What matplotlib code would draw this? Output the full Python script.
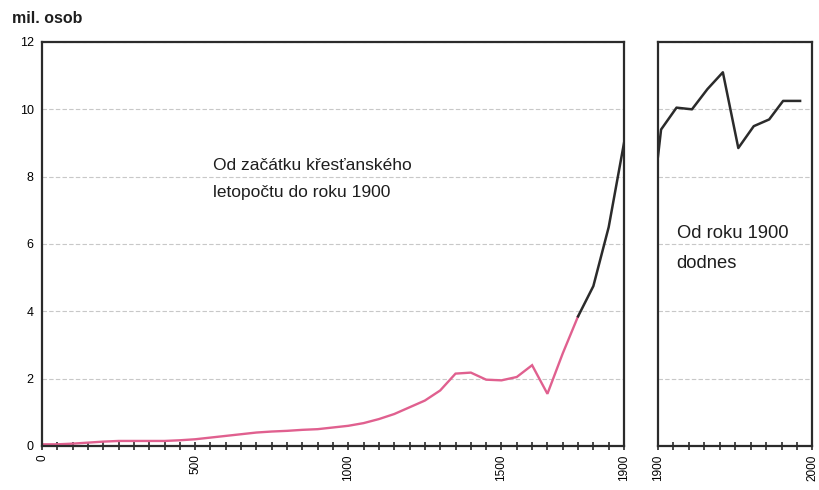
import matplotlib
matplotlib.use("Agg")
import matplotlib.pyplot as plt

# --- data (mil. osob) ---
years_old = [0, 50, 100, 150, 200, 250, 300, 350, 400, 450, 500, 550, 600, 650, 700,
             750, 800, 850, 900, 950, 1000, 1050, 1100, 1150, 1200, 1250, 1300, 1350,
             1400, 1450, 1500, 1550, 1600, 1650, 1700, 1750]
pop_old = [0.05, 0.05, 0.07, 0.1, 0.13, 0.15, 0.15, 0.15, 0.15, 0.17, 0.2, 0.25, 0.3, 0.35, 0.4,
           0.43, 0.45, 0.48, 0.5, 0.55, 0.6, 0.68, 0.8, 0.95, 1.15, 1.35, 1.65, 2.15,
           2.18, 1.97, 1.95, 2.05, 2.4, 1.55, 2.75, 3.85]
years_late = [1750, 1800, 1850, 1900]
pop_late = [3.85, 4.75, 6.5, 9.0]
years_new = [1900, 1902, 1912, 1922, 1932, 1942, 1952, 1962, 1972, 1981, 1992]
pop_new = [8.6, 9.4, 10.05, 10.0, 10.6, 11.1, 8.85, 9.5, 9.7, 10.25, 10.25]

left_ticklabels = {0: "0", 500: "500", 1000: "1000", 1500: "1500", 1900: "1900"}
right_ticklabels = {1900: "1900", 2000: "2000"}

PINK = "#e0608f"
DARK = "#2b2b2b"
GRID = "#c8c8c8"
TXT = "#1e1e1e"

plt.rcParams["font.family"] = ["Liberation Sans", "DejaVu Sans"]

fig = plt.figure(figsize=(8.19, 4.90), dpi=100)
ax1 = fig.add_axes([0.0513, 0.0898, 0.7106, 0.8245])
ax2 = fig.add_axes([0.8034, 0.0898, 0.1886, 0.8245])


def style(ax, xticks, labels):
    for s in ax.spines.values():
        s.set_linewidth(1.6)
        s.set_color(DARK)
    ax.set_ylim(0, 12)
    ax.set_yticks(range(0, 13, 2))
    ax.grid(axis="y", color=GRID, linestyle=(0, (4, 2)), linewidth=0.8)
    ax.set_axisbelow(True)
    ax.set_xticks(xticks)
    ax.set_xticklabels([labels.get(t, "") for t in xticks], rotation=90, fontsize=8.5)
    ax.tick_params(axis="x", direction="inout", length=6, width=1.2, color=DARK, pad=3)
    ax.tick_params(axis="y", length=0, labelsize=9, pad=6)


style(ax1, list(range(0, 1901, 50)), left_ticklabels)
ax1.set_xlim(0, 1900)
ax1.plot(years_old, pop_old, color=PINK, lw=1.7, solid_joinstyle="miter")
ax1.plot(years_late, pop_late, color=DARK, lw=1.8)
ax1.text(557, 7.93, "Od začátku křesťanského\nletopočtu do roku 1900",
         fontsize=12.5, color=TXT, linespacing=2.0, va="center", ha="left")

style(ax2, list(range(1900, 2001, 10)), right_ticklabels)
ax2.set_xlim(1900, 2000)
ax2.set_yticklabels([])
ax2.plot(years_new, pop_new, color=DARK, lw=1.8)
ax2.text(1912, 5.87, "Od roku 1900\ndodnes", fontsize=13.2, color=TXT,
         linespacing=2.0, va="center", ha="left")

fig.text(0.015, 0.963, "mil. osob", fontsize=11.5, fontweight="bold", color=TXT,
         va="center", ha="left")

fig.savefig("out.png", dpi=100)
